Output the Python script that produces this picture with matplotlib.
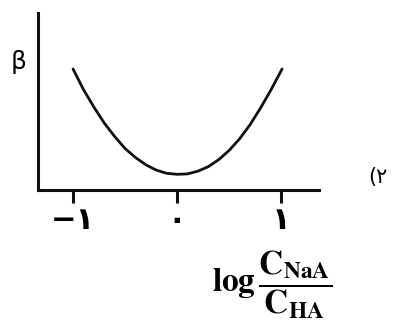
import matplotlib
matplotlib.use("Agg")
import matplotlib.pyplot as plt

plt.rcParams['mathtext.fontset'] = 'stix'

# curve (log ratio vs. buffer capacity, arbitrary units)
log_ratio = [-1.00, -0.90, -0.80, -0.70, -0.60, -0.50, -0.40, -0.30, -0.20, -0.10,
             0.00, 0.10, 0.20, 0.30, 0.40, 0.50, 0.60, 0.70, 0.80, 0.90, 1.01]
beta = [1.215, 1.01, 0.835, 0.675, 0.54, 0.42, 0.33, 0.257, 0.204, 0.172,
        0.162, 0.166, 0.193, 0.238, 0.308, 0.40, 0.515, 0.655, 0.82, 1.00, 1.215]

tick_pos = [-1, 0, 1]
tick_text = ['\u2212\u06f1', '\u06f0', '\u06f1']

W, H = 395, 329
fig = plt.figure(figsize=(W / 100, H / 100), dpi=100)
ax = fig.add_axes([38 / W, 1 - 190.5 / H, (319 - 38) / W, (190.5 - 13) / H])

ax.plot(log_ratio, beta, color='#111111', lw=2.0, solid_capstyle='round',
        solid_joinstyle='round')

ax.set_xlim(-1.337, 1.365)
ax.set_ylim(0, 1.775)

for s in ['top', 'right']:
    ax.spines[s].set_visible(False)
for s in ['left', 'bottom']:
    ax.spines[s].set_linewidth(2.2)
    ax.spines[s].set_color('#111111')

ax.set_yticks([])
ax.set_xticks(tick_pos)
ax.set_xticklabels(tick_text, fontsize=22, fontweight='bold', family='DejaVu Sans')
ax.tick_params(axis='x', direction='out', length=9, width=2.2,
               color='#111111', pad=2.5)

# y label
fig.text(19 / W, 1 - 62 / H, '\u03b2', fontsize=18, ha='center', va='center',
         family='DejaVu Sans')

# question number
fig.text(378 / W, 1 - 177 / H, '(\u06f2', fontsize=15, ha='center', va='center',
         family='DejaVu Sans')

# x label
fig.text(272 / W, 1 - 285 / H,
         r'$\mathbf{log}\,\dfrac{\mathbf{C}_{\mathbf{NaA}}}{\mathbf{C}_{\mathbf{HA}}}$',
         fontsize=24, ha='center', va='center')

fig.savefig('out.png', dpi=100)
